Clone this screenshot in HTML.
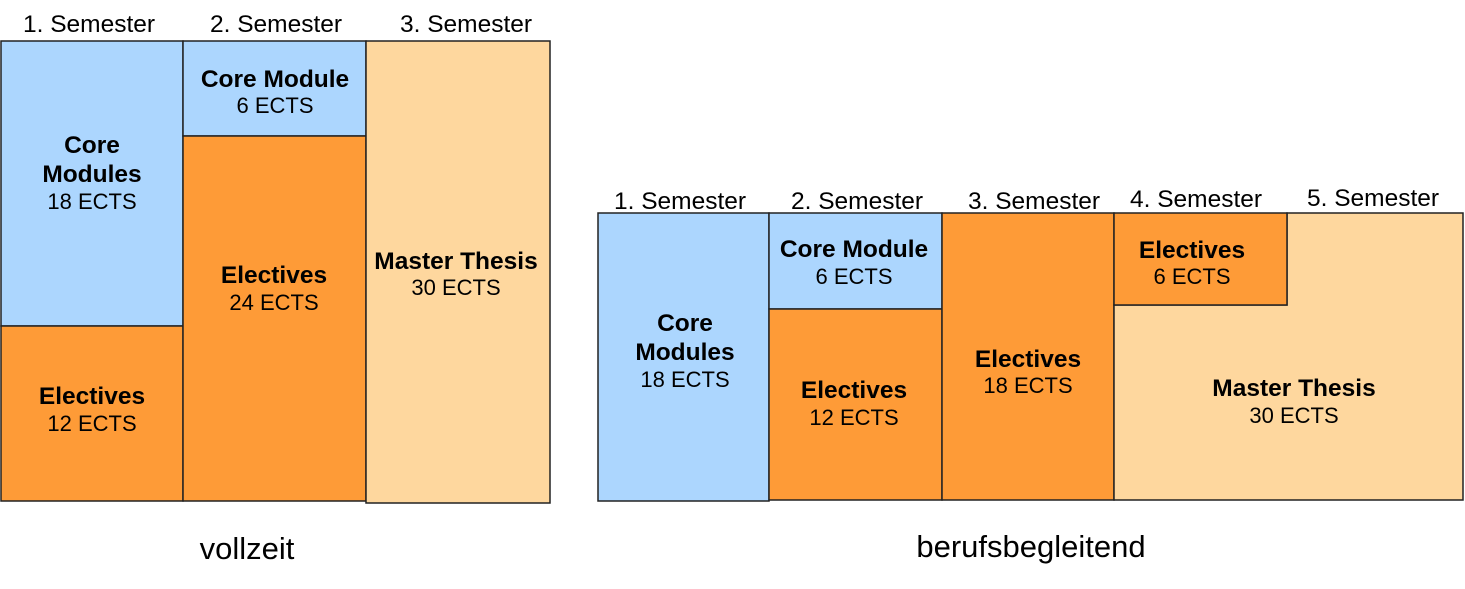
<!DOCTYPE html>
<html><head><meta charset="utf-8"><style>
html,body{margin:0;padding:0;background:#fff;width:1465px;height:589px;overflow:hidden}
svg text{font-family:"Liberation Sans",Arial,sans-serif;text-anchor:middle;fill:#000}
.s{font-size:24.5px}.b{font-size:24.5px;font-weight:bold}.e{font-size:22px}
rect,polygon{stroke:#222;stroke-width:1.5}
.bl{fill:#acd6fe}.or{fill:#fe9b37}.lt{fill:#fed79e}
</style></head><body>
<svg width="1465" height="589" xmlns="http://www.w3.org/2000/svg">
<text class="s" x="89" y="32">1. Semester</text>
<text class="s" x="276" y="32">2. Semester</text>
<text class="s" x="466" y="32">3. Semester</text>
<rect class="bl" x="1" y="41" width="182" height="285"/>
<rect class="or" x="1" y="326" width="182" height="175"/>
<rect class="bl" x="183" y="41" width="183" height="95"/>
<rect class="or" x="183" y="136" width="183" height="365"/>
<rect class="lt" x="366" y="41" width="184" height="462"/>
<text class="b" x="92" y="153">Core</text>
<text class="b" x="92" y="182">Modules</text>
<text class="e" x="92" y="209">18 ECTS</text>
<text class="b" x="92" y="404">Electives</text>
<text class="e" x="92" y="431">12 ECTS</text>
<text class="b" x="275" y="87">Core Module</text>
<text class="e" x="275" y="113">6 ECTS</text>
<text class="b" x="274" y="283">Electives</text>
<text class="e" x="274" y="310">24 ECTS</text>
<text class="b" x="456" y="269">Master Thesis</text>
<text class="e" x="456" y="295">30 ECTS</text>
<text x="247" y="559" style="font-size:31px">vollzeit</text>

<text class="s" x="680" y="209">1. Semester</text>
<text class="s" x="857" y="209">2. Semester</text>
<text class="s" x="1034" y="209">3. Semester</text>
<text class="s" x="1196" y="207">4. Semester</text>
<text class="s" x="1373" y="206">5. Semester</text>
<rect class="bl" x="598" y="213" width="171" height="288"/>
<rect class="bl" x="769" y="213" width="173" height="96"/>
<rect class="or" x="769" y="309" width="173" height="191"/>
<rect class="or" x="942" y="213" width="172" height="287"/>
<polygon class="lt" points="1114,305 1287,305 1287,213 1463,213 1463,500 1114,500"/>
<rect class="or" x="1114" y="213" width="173" height="92"/>
<text class="b" x="685" y="331">Core</text>
<text class="b" x="685" y="360">Modules</text>
<text class="e" x="685" y="387">18 ECTS</text>
<text class="b" x="854" y="257">Core Module</text>
<text class="e" x="854" y="284">6 ECTS</text>
<text class="b" x="854" y="398">Electives</text>
<text class="e" x="854" y="425">12 ECTS</text>
<text class="b" x="1028" y="367">Electives</text>
<text class="e" x="1028" y="393">18 ECTS</text>
<text class="b" x="1192" y="258">Electives</text>
<text class="e" x="1192" y="284">6 ECTS</text>
<text class="b" x="1294" y="396">Master Thesis</text>
<text class="e" x="1294" y="423">30 ECTS</text>
<text x="1031" y="557" style="font-size:31px">berufsbegleitend</text>
</svg>
</body></html>
